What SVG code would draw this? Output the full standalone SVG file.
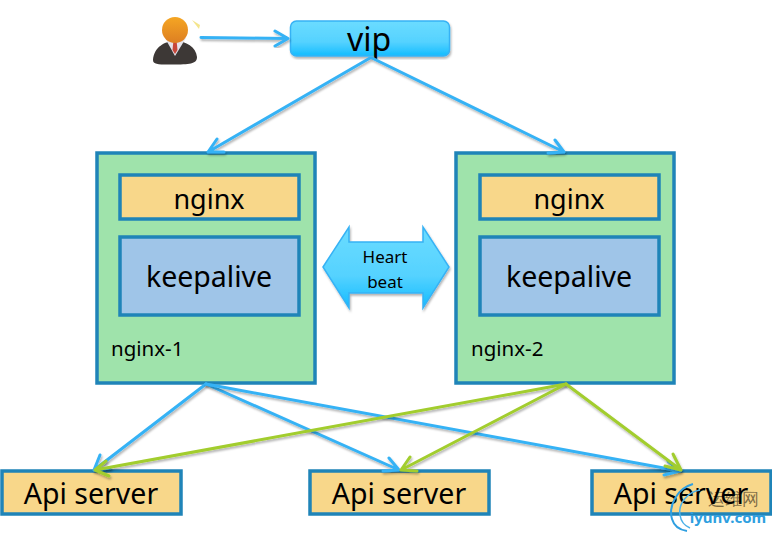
<svg xmlns="http://www.w3.org/2000/svg" width="772" height="533" viewBox="0 0 772 533">
<style>
text{font-family:"Noto Sans","Open Sans","DejaVu Sans",sans-serif;fill:#000;text-anchor:middle}
.server{fill:#9fe3ab;stroke:#1f84b8;stroke-width:3.5}
.org{fill:#f8d78a;stroke:#1f84b8;stroke-width:3.5}
.ka{fill:#9fc5e8;stroke:#1f84b8;stroke-width:3.5}
.t30{font-size:27px}
.ka-t{font-size:28.5px}
.t28{font-size:28.5px}
.small{font-size:17px}
.label{font-size:20.5px;text-anchor:start}
.conn{fill:none;stroke-width:3;stroke-linecap:round;stroke-linejoin:round;filter:url(#sh)}
.blue{stroke:#36b2f5}
.green{stroke:#a2cd2d}
</style>
<defs>
<linearGradient id="gv" x1="0" y1="0" x2="0" y2="1"><stop offset="0" stop-color="#6bdcff"/><stop offset="0.6" stop-color="#55d2ff"/><stop offset="1" stop-color="#13bcff"/></linearGradient>
<linearGradient id="head" x1="0" y1="0" x2="0" y2="1"><stop offset="0" stop-color="#f5a623"/><stop offset="1" stop-color="#dd7f22"/></linearGradient>
<filter id="sh" x="-10%" y="-10%" width="120%" height="120%"><feDropShadow dx="1" dy="2" stdDeviation="1.2" flood-color="#000" flood-opacity="0.3"/></filter>
</defs>

<g id="user">
<path d="M153 60C154 47 165 41 175 41C186 41 196 47 197 57C197 63 192 64.500 175 64.500C160 64.500 153 65 153 60Z" fill="#3d3836"/>
<path d="M165 38L175 56L186 38L180 35L170 35Z" fill="#e4e2ea"/>
<path d="M173.500 40L176.500 40L177.500 50L175 54L172.500 50Z" fill="#c8473a"/>
<circle cx="175" cy="30" r="13" fill="url(#head)"/>
<path d="M192 20L200 25L199 29Z" fill="#f4e58c"/>
</g>

<g id="vip">
<rect x="290.500" y="21" width="159" height="35" rx="6" fill="url(#gv)" stroke="#36b2f5" stroke-width="1.500" filter="url(#sh)"/>
<text x="369" y="51" font-size="32">vip</text>
</g>

<g id="nginx-1">
<rect class="server" x="97" y="153" width="218" height="230"/>
<rect class="org" x="120" y="175" width="179" height="44"/>
<text class="t30" x="209" y="209">nginx</text>
<rect class="ka" x="120" y="237" width="179" height="78"/>
<text class="ka-t" x="209" y="287">keepalive</text>
<text class="label" x="111" y="356">nginx-1</text>
</g>

<g id="nginx-2">
<rect class="server" x="456" y="153" width="218" height="230"/>
<rect class="org" x="480" y="175" width="179" height="44"/>
<text class="t30" x="569" y="209">nginx</text>
<rect class="ka" x="480" y="237" width="179" height="78"/>
<text class="ka-t" x="569" y="287">keepalive</text>
<text class="label" x="471" y="356">nginx-2</text>
</g>

<g id="heartbeat">
<path d="M323 267L349 227V242H423V227L449 267L423 308V293H349V308Z" fill="url(#gv)" stroke="#36b2f5" stroke-width="1.500" filter="url(#sh)"/>
<text class="small" x="385" y="263">Heart</text>
<text class="small" x="385" y="288">beat</text>
</g>

<g id="api-1">
<rect class="org" x="2" y="471" width="179" height="43"/>
<text class="t28" x="91" y="504">Api server</text>
</g>
<g id="api-2">
<rect class="org" x="310" y="471" width="179" height="43"/>
<text class="t28" x="399" y="504">Api server</text>
</g>
<g id="api-3">
<rect class="org" x="592" y="471" width="179" height="43"/>
<text class="t28" x="681" y="504">Api server</text>
</g>

<g id="connectors">
<path class="conn blue" d="M201 37.500L288 38.500M275 31L288 38.500L275 46"/>
<path class="conn blue" d="M370 58L208 152M217 139L208 152L224 152"/>
<path class="conn blue" d="M372 58L564 152M548 153L564 152L555 140"/>
<path class="conn blue" d="M206 384L94 470M100 455L94 470L110 468"/>
<path class="conn blue" d="M206 384L399 470M383 471L399 470L389 458"/>
<path class="conn blue" d="M206 384L680 471M664 475L680 471L668 461"/>
<path class="conn green" d="M566 384L95 470M109 476L95 470L106 461"/>
<path class="conn green" d="M566 384L401 470M417 471L401 470L410 457"/>
<path class="conn green" d="M566 384L681 470M673 454L681 470L665 466"/>
</g>

<g id="watermark">
<path d="M693 484C678 488 668 505 672 519C674 526 680 530 687 531" fill="none" stroke="#2f9fe0" stroke-width="2"/>
<path d="M700 490C688 492 678 503 680 515C681 522 685 526 690 528" fill="none" stroke="#4bb1e8" stroke-width="1.500"/>
<text x="733" y="505" font-size="17" fill-opacity="0.5">运维网</text>
<text x="728" y="523" font-size="15" font-weight="700" style="fill:#2f9fe0">iyunv.com</text>
</g>
</svg>
